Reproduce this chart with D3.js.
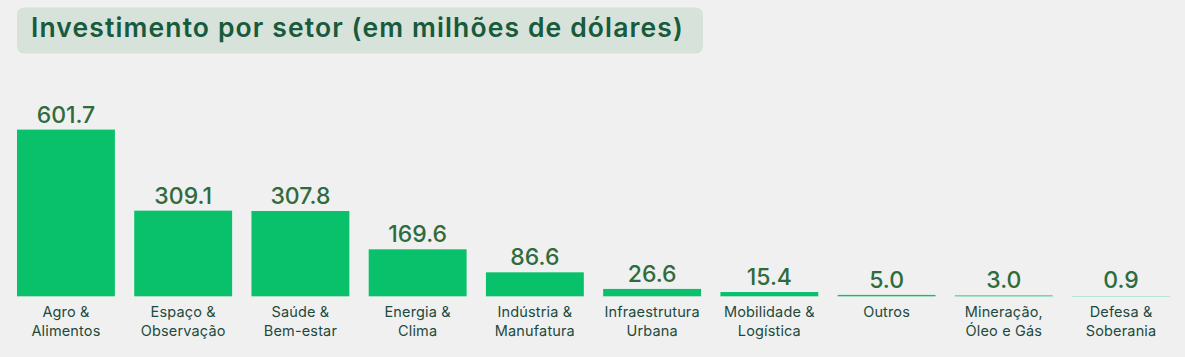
<!DOCTYPE html>
<html><head><meta charset="utf-8">
<script src="https://cdn.jsdelivr.net/npm/d3@7"></script>
<style>
html,body{margin:0;padding:0;background:#f0f0f0;}
svg{display:block;}
</style></head>
<body>
<svg id="chart" width="1185" height="357"></svg>
<script>
const title = "Investimento por setor (em milhões de dólares)";
const categories = ["Agro &\nAlimentos","Espaço &\nObservação","Saúde &\nBem-estar","Energia &\nClima","Indústria &\nManufatura","Infraestrutura\nUrbana","Mobilidade &\nLogística","Outros","Mineração,\nÓleo e Gás","Defesa &\nSoberania"];
const values = [601.7,309.1,307.8,169.6,86.6,26.6,15.4,5.0,3.0,0.9];
const valueLabels = ["601.7","309.1","307.8","169.6","86.6","26.6","15.4","5.0","3.0","0.9"];

const svg = d3.select("#chart");
svg.append("rect").attr("width",1185).attr("height",357).attr("fill","#f0f0f0");

// title box
const tg = svg.append("g");
tg.append("rect").attr("x",17).attr("y",7.5).attr("width",686).attr("height",46).attr("rx",7).attr("fill","#d6e2da");
tg.append("text").attr("x",31).attr("y",36.5)
  .attr("font-family","Inter, 'Noto Sans', sans-serif").attr("font-weight",600).attr("font-size",26.5)
  .attr("letter-spacing",1.12)
  .attr("fill","#175a3c").text(title);

const x = d3.scaleBand().domain(d3.range(categories.length)).range([17,1170]).paddingInner(0.165).paddingOuter(0);
const baseline = 296.3;
const y = d3.scaleLinear().domain([0,601.7]).range([baseline,129.6]);

const g = svg.append("g");
g.selectAll("rect.bar").data(values).join("rect").attr("class","bar")
  .attr("x",(d,i)=>x(i)).attr("width",x.bandwidth())
  .attr("y",d=>y(d)).attr("height",d=>baseline-y(d))
  .attr("fill","#09c16b");

g.selectAll("text.val").data(values).join("text").attr("class","val")
  .attr("x",(d,i)=>x(i)+x.bandwidth()/2).attr("y",d=>Math.min(y(d),baseline-1.5)-7)
  .attr("text-anchor","middle")
  .attr("font-family","Inter, 'Noto Sans', sans-serif").attr("font-weight",500).attr("font-size",23)
  .attr("fill","#2f6b3c").text((d,i)=>valueLabels[i]);

const cl = g.selectAll("text.cat").data(categories).join("text").attr("class","cat")
  .attr("x",(d,i)=>x(i)+x.bandwidth()/2).attr("y",316.5)
  .attr("text-anchor","middle")
  .attr("font-family","Inter, 'Noto Sans', sans-serif").attr("font-size",14.5)
  .attr("letter-spacing",0.15)
  .attr("fill","#1d4a3c");
cl.each(function(d){
  const lines = d.split("\n");
  d3.select(this).selectAll("tspan").data(lines).join("tspan")
    .attr("x",d3.select(this).attr("x")).attr("dy",(l,j)=>j===0?0:19).text(l=>l);
});
</script>
</body></html>
